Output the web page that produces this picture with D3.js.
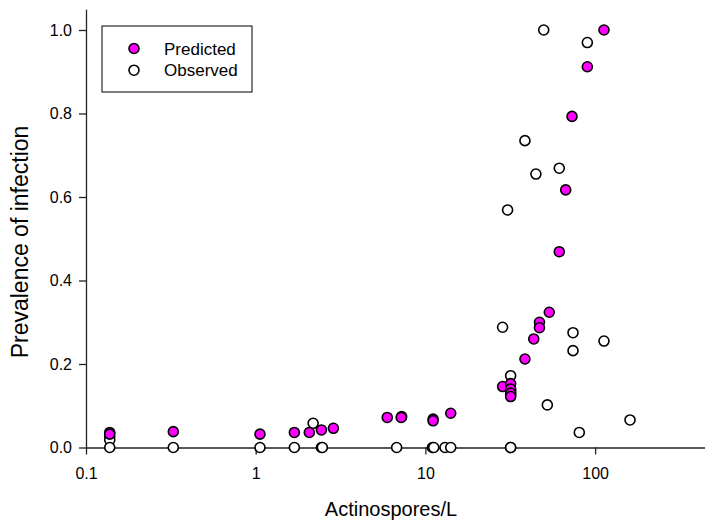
<!DOCTYPE html>
<html>
<head>
<meta charset="utf-8">
<script src="https://cdn.jsdelivr.net/npm/d3@7"></script>
<style>
  html, body { margin: 0; padding: 0; background: #fff; }
  svg text { font-family: Arial, 'Liberation Sans', sans-serif; fill: #000; }
</style>
</head>
<body>
<div id="chart"></div>
<script>
// values
const predX = [0.138, 0.138, 0.327, 1.06, 1.69, 2.07, 2.44, 2.87, 5.96, 7.25, 7.2, 11.1, 11.1, 14.1,
  28.5, 31.8, 31.8, 31.8, 31.8, 38.6, 43.5, 47.0, 47.0, 53.7, 61.5, 67.1, 73.1, 90, 112.8];
const predY = [0.036, 0.032, 0.038, 0.032, 0.036, 0.036, 0.042, 0.046, 0.072, 0.074, 0.072, 0.068, 0.064, 0.082,
  0.146, 0.153, 0.140, 0.130, 0.122, 0.212, 0.260, 0.300, 0.287, 0.324, 0.469, 0.617, 0.793, 0.912, 1.0];

const obsX = [0.138, 0.138, 0.138, 0.327, 1.06, 1.69, 2.18, 2.44, 2.47, 6.77, 11.0, 11.2, 13.05, 14.1,
  28.5, 30.5, 31.8, 31.8, 31.8, 31.8, 31.8, 38.6, 44.8, 49.8, 52.3, 61.5, 74.1, 74.1, 80.7, 90, 112.8, 160.6];
const obsY = [0.025, 0.018, 0, 0, 0, 0, 0.058, 0, 0, 0, 0, 0, 0, 0,
  0.288, 0.569, 0.172, 0.135, 0.125, 0, 0, 0.735, 0.655, 1.0, 0.102, 0.669, 0.275, 0.232, 0.036, 0.970, 0.255, 0.066];

const xTicks = [0.1, 1, 10, 100];
const xTickLabels = ['0.1', '1', '10', '100'];
const yTicks = [0, 0.2, 0.4, 0.6, 0.8, 1.0];

const W = 705, H = 521;
const x0 = 86, y0 = 447.5, decade = 169.7, unitY = 417.5;

const svg = d3.select('#chart').append('svg')
  .attr('width', W).attr('height', H)
  .style('display', 'block');

const x = d3.scaleLog().domain([0.1, 500]).range([x0, x0 + decade * Math.log10(5000)]);
const y = d3.scaleLinear().domain([0, 1.05]).range([y0, y0 - 1.05 * unitY]);

const xAxis = svg.append('g')
  .attr('transform', `translate(0,${y0})`)
  .call(d3.axisBottom(x).tickValues(xTicks).tickFormat((d, i) => xTickLabels[i])
    .tickSize(7).tickSizeOuter(0).tickPadding(13));
const yAxis = svg.append('g')
  .attr('transform', `translate(${x0},0)`)
  .call(d3.axisLeft(y).tickValues(yTicks).tickFormat(d3.format('.1f'))
    .tickSize(7).tickSizeOuter(0).tickPadding(7));

[xAxis, yAxis].forEach(a => {
  a.selectAll('path, line').attr('stroke', '#222').attr('stroke-width', 1.3);
  a.selectAll('text').style('font-size', '16px').attr('fill', '#000');
});

svg.append('text')
  .attr('x', 391).attr('y', 516)
  .attr('text-anchor', 'middle')
  .style('font-size', '20px')
  .text('Actinospores/L');

svg.append('text')
  .attr('transform', 'rotate(-90)')
  .attr('x', -242).attr('y', 28)
  .attr('text-anchor', 'middle')
  .style('font-size', '23px')
  .text('Prevalence of infection');

const plot = svg.append('g');

plot.selectAll('circle.obs')
  .data(obsX.map((v, i) => [v, obsY[i]]))
  .join('circle')
  .attr('class', 'obs')
  .attr('cx', d => x(d[0])).attr('cy', d => y(d[1]))
  .attr('r', 5).attr('fill', '#fff')
  .attr('stroke', '#000').attr('stroke-width', 1.6);

plot.selectAll('circle.pred')
  .data(predX.map((v, i) => [v, predY[i]]))
  .join('circle')
  .attr('class', 'pred')
  .attr('cx', d => x(d[0])).attr('cy', d => y(d[1]))
  .attr('r', 5).attr('fill', '#ff00ff')
  .attr('stroke', '#000').attr('stroke-width', 1.6);

// legend
const lg = svg.append('g');
lg.append('rect')
  .attr('x', 102).attr('y', 26).attr('width', 150).attr('height', 66)
  .attr('fill', '#fff').attr('stroke', '#000').attr('stroke-width', 1);
[['Predicted', '#ff00ff'], ['Observed', '#fff']].forEach(([name, col], i) => {
  lg.append('circle')
    .attr('cx', 134).attr('cy', 48.5 + i * 21.7).attr('r', 5)
    .attr('fill', col).attr('stroke', '#000').attr('stroke-width', 1.6);
  lg.append('text')
    .attr('x', 164).attr('y', 54.5 + i * 21.7)
    .style('font-size', '17px')
    .text(name);
});
</script>
</body>
</html>
